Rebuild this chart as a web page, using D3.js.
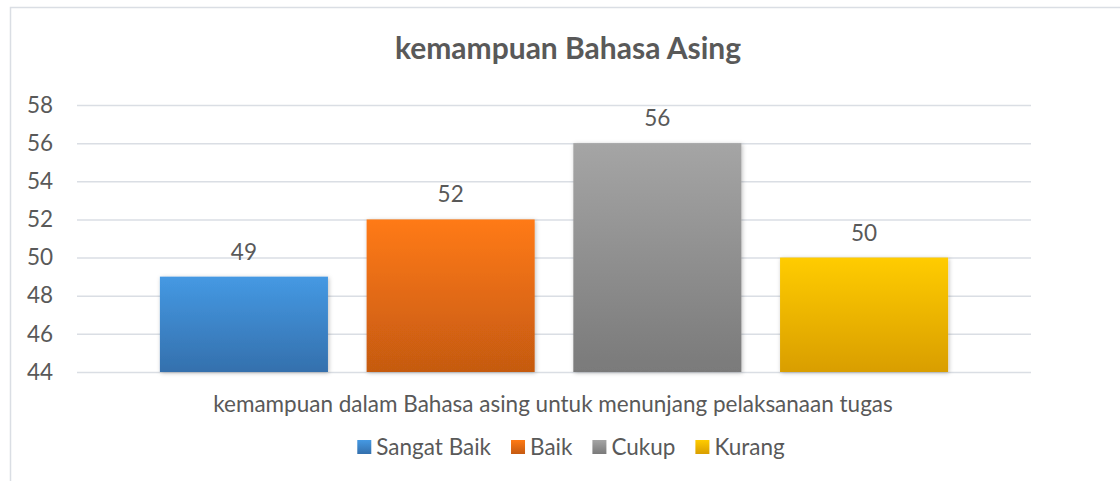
<!DOCTYPE html>
<html><head><meta charset="utf-8">
<script src="https://cdn.jsdelivr.net/npm/d3@7"></script>
<style>
body{margin:0;background:#fff;}
svg{display:block;font-family:Lato,'Open Sans',sans-serif;}
</style>
</head><body>
<svg id="c" width="1120" height="481"></svg>
<script>
const title = "kemampuan Bahasa Asing";
const categories = ["kemampuan dalam Bahasa asing untuk menunjang pelaksanaan tugas"];
const series = ["Sangat Baik", "Baik", "Cukup", "Kurang"];
const values = [49, 52, 56, 50];
const yTicks = [44, 46, 48, 50, 52, 54, 56, 58];
const colorsTop = ["#4599E3", "#FF7A14", "#A5A5A5", "#FFCC00"];
const colorsBottom = ["#3470AD", "#C55A11", "#7A7A7A", "#D99E00"];

const svg = d3.select("#c");
const textColor = "#595959";
const gridColor = "#DADEE4";
const fs = 22.5;

// chart border
svg.append("rect").attr("x", 10.5).attr("y", 7.5).attr("width", 1200).attr("height", 600)
  .attr("fill", "#fff").attr("stroke", gridColor).attr("stroke-width", 1.5);

const defs = svg.append("defs");
series.forEach((s, i) => {
  const g = defs.append("linearGradient").attr("id", "g" + i)
    .attr("x1", 0).attr("y1", 0).attr("x2", 0).attr("y2", 1);
  g.append("stop").attr("offset", "0%").attr("stop-color", colorsTop[i]);
  g.append("stop").attr("offset", "100%").attr("stop-color", colorsBottom[i]);
});
const f = defs.append("filter").attr("id", "sh").attr("x", "-10%").attr("y", "-10%").attr("width", "120%").attr("height", "120%");
f.append("feDropShadow").attr("dx", 1).attr("dy", 1).attr("stdDeviation", 2)
  .attr("flood-color", "#000").attr("flood-opacity", 0.25);

const plot = {left: 77, right: 1031, top: 105, bottom: 372};
const y = d3.scaleLinear().domain([44, 58]).range([plot.bottom, plot.top]);
const x0 = d3.scaleBand().domain(categories).range([plot.left, plot.right]).padding(0);
const x1 = d3.scaleBand().domain(series).range([0, x0.bandwidth()])
  .paddingInner(0.187).paddingOuter(0.401);

// gridlines
const yAxis = d3.axisLeft(y).tickValues(yTicks).tickSize(-(plot.right - plot.left)).tickPadding(24);
const ga = svg.append("g").attr("transform", `translate(${plot.left},0)`).call(yAxis);
ga.select(".domain").remove();
ga.selectAll(".tick line").attr("stroke", gridColor).attr("stroke-width", 1.5);
ga.selectAll(".tick text").attr("fill", textColor).attr("font-size", fs)
  .attr("font-family", "Lato,'Open Sans',sans-serif");

// bars
const gb = svg.append("g").attr("transform", `translate(${x0(categories[0])},0)`);
gb.selectAll("rect").data(series).join("rect")
  .attr("x", d => x1(d)).attr("width", x1.bandwidth())
  .attr("y", (d, i) => y(values[i])).attr("height", (d, i) => y(44) - y(values[i]))
  .attr("fill", (d, i) => `url(#g${i})`).attr("filter", "url(#sh)");

gb.selectAll("text.lbl").data(series).join("text").attr("class", "lbl")
  .attr("x", d => x1(d) + x1.bandwidth() / 2)
  .attr("y", (d, i) => y(values[i]) - 17)
  .attr("text-anchor", "middle").attr("fill", textColor).attr("font-size", fs)
  .text((d, i) => values[i]);

// title
svg.append("text").attr("x", 568).attr("y", 59).attr("text-anchor", "middle")
  .attr("fill", textColor).attr("font-size", 30).attr("font-weight", "bold").text(title);

// category axis title
svg.append("text").attr("x", x0(categories[0]) + x0.bandwidth() / 2 - 1).attr("y", 412)
  .attr("text-anchor", "middle").attr("fill", textColor).attr("font-size", fs).text(categories[0]);

// legend
const lg = svg.append("g");
const items = lg.selectAll("g").data(series).join("g");
items.append("rect").attr("width", 14).attr("height", 14).attr("y", 440)
  .attr("fill", (d, i) => `url(#g${i})`);
items.append("text").attr("x", 19).attr("y", 455).attr("fill", textColor).attr("font-size", fs).text(d => d);
let cx = 0;
const pos = [];
const gap = 20;
items.each(function () {
  pos.push(cx);
  const w = d3.select(this).select("text").node().getComputedTextLength();
  cx += 19 + w + gap;
});
const total = cx - gap;
const start = 571 - total / 2;
items.attr("transform", (d, i) => `translate(${start + pos[i]},0)`);
</script>
</body></html>
